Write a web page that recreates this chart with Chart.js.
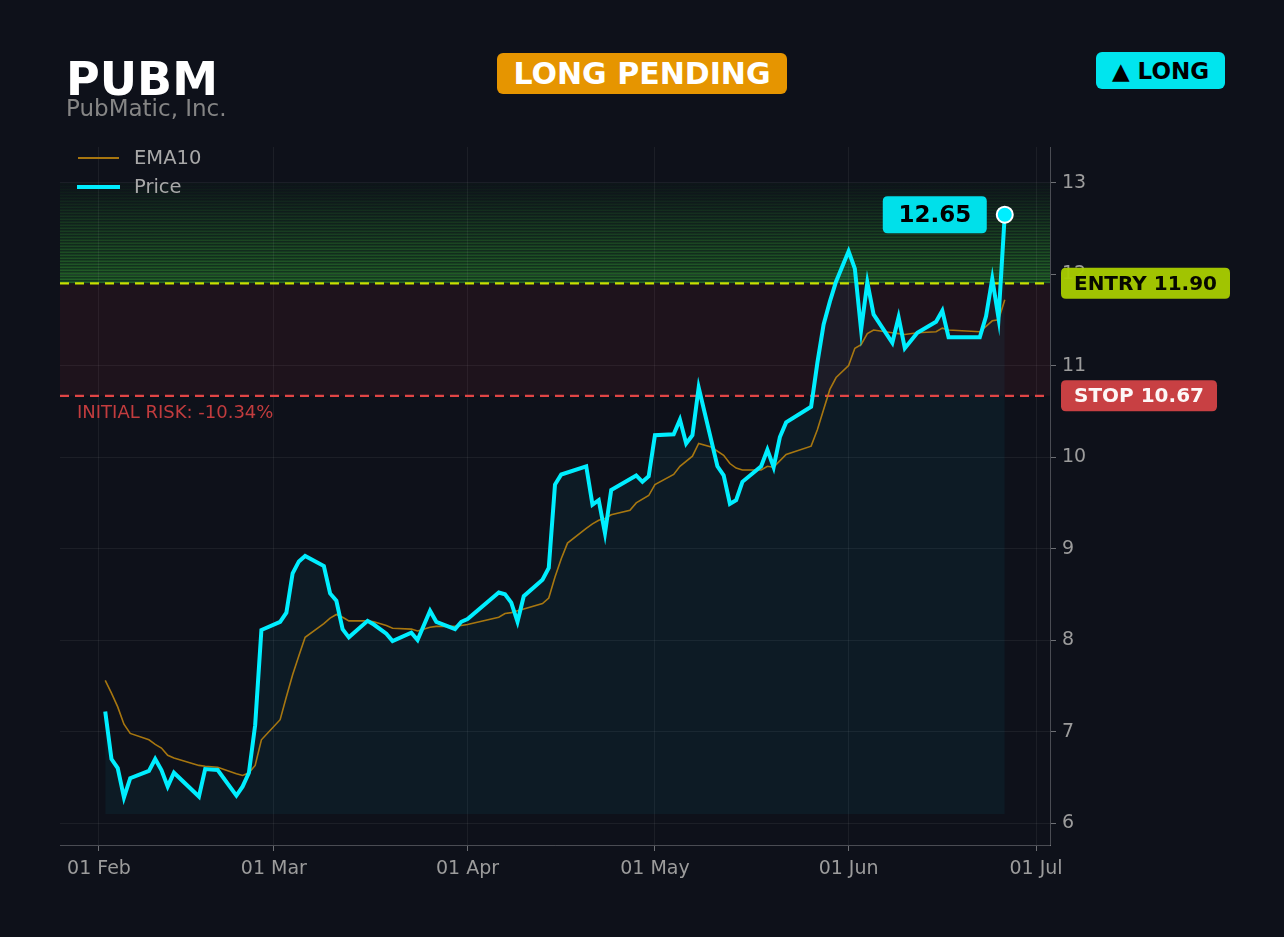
<!DOCTYPE html>
<html>
<head>
<meta charset="utf-8">
<script src="https://cdn.jsdelivr.net/npm/chart.js@4.4.1/dist/chart.umd.min.js"></script>
<style>
  html, body { margin: 0; padding: 0; background: #0e111a; }
  #wrap { position: relative; width: 1284px; height: 937px; font-family: "DejaVu Sans", sans-serif; }
  #wrap canvas { position: absolute; left: 0; top: 0; }
  .title { position: absolute; left: 66px; top: 56px; font-size: 46px; line-height: 46px; font-weight: bold; color: #fff; }
  .sub { position: absolute; left: 66px; top: 97px; font-size: 23px; line-height: 23px; color: #858585; }
  .badge { position: absolute; display: flex; align-items: center; justify-content: center; border-radius: 6px; font-weight: bold; white-space: nowrap; }
  #pending { left: 497px; top: 53px; width: 290px; height: 41px; background: #e69500; color: #fff; font-size: 30px; }
  #side { left: 1096px; top: 52px; width: 129px; height: 37px; background: #00e5ee; color: #000; font-size: 23px; }
</style>
</head>
<body>
<div id="wrap">
  <canvas id="chart"></canvas>
  <div class="title">PUBM</div>
  <div class="sub">PubMatic, Inc.</div>
  <div class="badge" id="pending">LONG PENDING</div>
  <div class="badge" id="side">▲ LONG</div>
</div>
<script>
// days counted from 01 Feb
const priceDays = [1,2,3,4,5,8,9,10,11,12,16,17,19,22,23,24,25,26,29,30,31,32,33,36,37,38,39,40,43,44,46,47,50,51,53,54,57,58,59,64,65,66,67,68,71,72,73,74,78,79,80,81,82,86,87,88,89,92,93,94,95,96,99,100,101,102,103,106,107,108,109,110,114,115,116,117,118,120,121,122,123,124,127,128,129,131,134,135,136,141,142,143,144,145];
const priceValues = [7.22,6.70,6.60,6.28,6.49,6.57,6.70,6.58,6.40,6.55,6.29,6.59,6.58,6.30,6.40,6.55,7.07,8.11,8.20,8.30,8.73,8.86,8.92,8.81,8.51,8.43,8.12,8.03,8.21,8.17,8.07,7.99,8.08,8.00,8.32,8.20,8.12,8.20,8.23,8.52,8.50,8.41,8.20,8.48,8.66,8.79,9.70,9.81,9.90,9.48,9.53,9.17,9.64,9.80,9.73,9.79,10.24,10.25,10.41,10.15,10.24,10.76,9.90,9.80,9.49,9.53,9.73,9.90,10.08,9.89,10.22,10.38,10.55,11.03,11.45,11.70,11.92,12.25,12.06,11.39,11.91,11.56,11.25,11.53,11.19,11.36,11.48,11.60,11.31,11.31,11.54,11.95,11.52,12.65];

const emaDays = [1,2,3,4,5,8,9,10,11,12,16,17,19,22,23,24,25,26,29,30,31,32,33,36,37,38,39,40,43,44,46,47,50,51,53,54,57,58,59,64,65,66,67,68,71,72,73,74,75,78,79,80,81,82,85,86,88,89,92,93,95,96,98,100,101,102,103,106,107,108,110,114,115,116,117,118,120,121,122,123,124,127,128,129,131,134,135,136,141,142,143,144,145];
const emaValues = [7.56,7.42,7.27,7.08,6.98,6.91,6.86,6.82,6.74,6.71,6.63,6.62,6.61,6.54,6.52,6.55,6.63,6.91,7.13,7.38,7.62,7.83,8.03,8.18,8.24,8.28,8.25,8.21,8.21,8.20,8.16,8.13,8.12,8.10,8.14,8.15,8.15,8.16,8.17,8.25,8.29,8.30,8.32,8.34,8.40,8.46,8.69,8.89,9.06,9.22,9.27,9.31,9.33,9.37,9.42,9.50,9.58,9.70,9.81,9.90,10.01,10.15,10.11,10.02,9.93,9.88,9.86,9.86,9.90,9.89,10.03,10.12,10.30,10.52,10.74,10.87,11.00,11.19,11.23,11.35,11.39,11.36,11.35,11.34,11.36,11.37,11.41,11.39,11.37,11.43,11.49,11.50,11.72];

const xTickDays = [0, 28, 59, 89, 120, 150];
const xTickLabels = ['01 Feb', '01 Mar', '01 Apr', '01 May', '01 Jun', '01 Jul'];
const yTicks = [6, 7, 8, 9, 10, 11, 12, 13];

const ENTRY = 11.90;
const STOP = 10.67;
const TARGET_TOP = 13.0;
const FILL_BASE = 6.1;
const RISK_TEXT = 'INITIAL RISK: -10.34%';

const FONT = '"DejaVu Sans", sans-serif';
const CYAN = '#00eeff';
const GOLD = 'rgba(184,130,14,0.9)';

function rr(ctx, x, y, w, h, r) {
  ctx.beginPath();
  ctx.moveTo(x + r, y);
  ctx.lineTo(x + w - r, y);
  ctx.quadraticCurveTo(x + w, y, x + w, y + r);
  ctx.lineTo(x + w, y + h - r);
  ctx.quadraticCurveTo(x + w, y + h, x + w - r, y + h);
  ctx.lineTo(x + r, y + h);
  ctx.quadraticCurveTo(x, y + h, x, y + h - r);
  ctx.lineTo(x, y + r);
  ctx.quadraticCurveTo(x, y, x + r, y);
  ctx.closePath();
}

function badge(ctx, x, y, w, h, bg, fg, text, size) {
  ctx.fillStyle = bg;
  rr(ctx, x, y, w, h, 5);
  ctx.fill();
  ctx.fillStyle = fg;
  ctx.font = 'bold ' + size + 'px ' + FONT;
  ctx.textAlign = 'center';
  ctx.textBaseline = 'middle';
  ctx.fillText(text, x + w / 2, y + h / 2 + 1);
}

const overlay = {
  id: 'overlay',
  beforeDraw(chart) {
    const { ctx, chartArea: a, scales: { y } } = chart;
    const w = a.right - a.left;
    const yE = y.getPixelForValue(ENTRY), yS = y.getPixelForValue(STOP), yT = y.getPixelForValue(TARGET_TOP);
    ctx.save();
    // risk zone
    ctx.fillStyle = 'rgba(120,30,42,0.16)';
    ctx.fillRect(a.left, yE, w, yS - yE);
    // target zone
    const g = ctx.createLinearGradient(0, yT, 0, yE);
    g.addColorStop(0, 'rgba(30,110,40,0.03)');
    g.addColorStop(1, 'rgba(30,125,40,0.38)');
    ctx.fillStyle = g;
    ctx.fillRect(a.left, yT, w, yE - yT);
    for (let py = yT; py < yE - 1; py += 3) {
      const t = (py - yT) / (yE - yT);
      ctx.fillStyle = 'rgba(60,160,55,' + (0.04 + 0.55 * t) + ')';
      ctx.fillRect(a.left, py, w, 1);
    }
    ctx.restore();
  },
  beforeDatasetsDraw(chart) {
    const { ctx, chartArea: a, scales: { y } } = chart;
    ctx.save();
    ctx.lineWidth = 2.2;
    ctx.setLineDash([9, 6]);
    ctx.strokeStyle = '#c8e000';
    let py = y.getPixelForValue(ENTRY);
    ctx.beginPath(); ctx.moveTo(a.left, py); ctx.lineTo(a.right, py); ctx.stroke();
    ctx.strokeStyle = '#e04545';
    py = y.getPixelForValue(STOP);
    ctx.beginPath(); ctx.moveTo(a.left, py); ctx.lineTo(a.right, py); ctx.stroke();
    ctx.restore();
  },
  afterDraw(chart) {
    const { ctx, chartArea: a, scales: { y } } = chart;
    ctx.save();
    // legend
    ctx.lineCap = 'butt';
    ctx.strokeStyle = GOLD; ctx.lineWidth = 2;
    ctx.beginPath(); ctx.moveTo(a.left + 18, 158); ctx.lineTo(a.left + 59, 158); ctx.stroke();
    ctx.strokeStyle = CYAN; ctx.lineWidth = 4;
    ctx.beginPath(); ctx.moveTo(a.left + 17, 187); ctx.lineTo(a.left + 60, 187); ctx.stroke();
    ctx.fillStyle = '#a8a8a8';
    ctx.font = '19.5px ' + FONT;
    ctx.textAlign = 'left'; ctx.textBaseline = 'middle';
    ctx.fillText('EMA10', a.left + 74, 159);
    ctx.fillText('Price', a.left + 74, 188);

    // risk text
    const yS = y.getPixelForValue(STOP), yE = y.getPixelForValue(ENTRY);
    ctx.fillStyle = '#c23c3e';
    ctx.font = '18px ' + FONT;
    ctx.fillText(RISK_TEXT, a.left + 17, yS + 17);

    // level badges
    ctx.globalAlpha = 0.96;
    badge(ctx, a.right + 11, yE - 15.5, 169, 31, '#a8cc00', '#000', 'ENTRY ' + ENTRY.toFixed(2), 20);
    badge(ctx, a.right + 11, yS - 15.5, 156, 31, '#d04345', '#fff', 'STOP ' + STOP.toFixed(2), 20);
    ctx.globalAlpha = 1;

    // last price badge
    const meta = chart.getDatasetMeta(0);
    const last = meta.data[meta.data.length - 1];
    badge(ctx, last.x - 122, last.y - 18.5, 104, 37, '#00e0ea', '#000', priceValues[priceValues.length - 1].toFixed(2), 23);
    ctx.restore();
  }
};

const lastIdx = priceValues.length - 1;

new Chart(document.getElementById('chart'), {
  type: 'line',
  data: {
    datasets: [
      {
        label: 'Price',
        data: priceDays.map((d, i) => ({ x: d, y: priceValues[i] })),
        borderColor: CYAN,
        borderWidth: 4,
        tension: 0,
        fill: { value: FILL_BASE },
        backgroundColor: 'rgba(0,220,255,0.05)',
        pointRadius: c => (c.dataIndex === lastIdx ? 8 : 0),
        pointBackgroundColor: CYAN,
        pointBorderColor: '#ffffff',
        pointBorderWidth: 2
      },
      {
        label: 'EMA10',
        data: emaDays.map((d, i) => ({ x: d, y: emaValues[i] })),
        borderColor: GOLD,
        borderWidth: 1.6,
        tension: 0,
        fill: false,
        pointRadius: 0
      }
    ]
  },
  options: {
    responsive: true,
    maintainAspectRatio: false,
    animation: false,
    layout: { padding: { left: 60, top: 147, right: 0, bottom: 0 } },
    plugins: {
      legend: { display: false },
      tooltip: { enabled: false },
      filler: { drawTime: 'beforeDatasetsDraw' }
    },
    scales: {
      x: {
        type: 'linear',
        min: -6.24,
        max: 152.24,
        afterBuildTicks: s => { s.ticks = xTickDays.map(v => ({ value: v })); },
        afterFit: s => { s.height = 92; },
        grid: { color: 'rgba(255,255,255,0.06)', tickColor: 'rgba(255,255,255,0.4)', tickLength: 6 },
        border: { color: 'rgba(255,255,255,0.25)' },
        ticks: {
          color: '#9c9c9c',
          font: { family: FONT, size: 19 },
          padding: 7,
          maxRotation: 0,
          autoSkip: false,
          callback: (v, i) => xTickLabels[i]
        }
      },
      y: {
        position: 'right',
        min: 5.76,
        max: 13.39,
        afterBuildTicks: s => { s.ticks = yTicks.map(v => ({ value: v })); },
        afterFit: s => { s.width = 234; },
        grid: { color: 'rgba(255,255,255,0.06)', tickColor: 'rgba(255,255,255,0.4)', tickLength: 6 },
        border: { color: 'rgba(255,255,255,0.25)' },
        ticks: {
          color: '#9c9c9c',
          font: { family: FONT, size: 19 },
          padding: 6,
          callback: v => String(v)
        }
      }
    }
  },
  plugins: [overlay]
});
</script>
</body>
</html>
